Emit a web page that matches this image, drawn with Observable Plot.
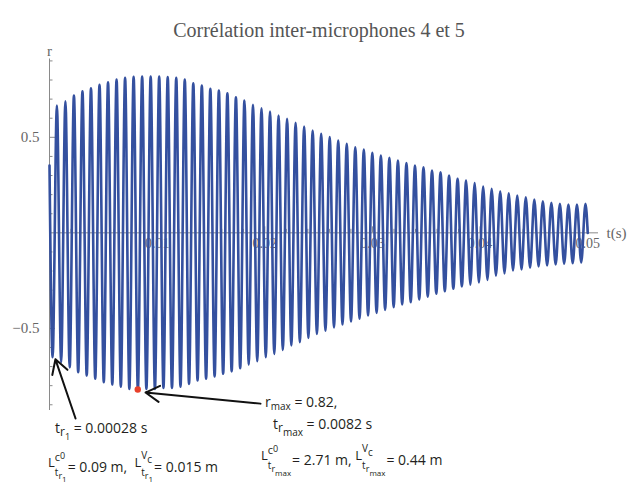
<!DOCTYPE html>
<html><head><meta charset="utf-8">
<script src="https://cdn.jsdelivr.net/npm/d3@7"></script>
<script src="https://cdn.jsdelivr.net/npm/@observablehq/plot@0.6"></script>
<style>body{margin:0;background:#fff}#chart{width:637px;height:484px}</style>
</head><body><div id="chart"></div>
<script>
const title = "Corrélation inter-microphones 4 et 5";
// signal: start value, then alternating trough / peak extrema
const startTime = 0, startValue = 0.352;
const endTime = 0.05, endValue = 0.0;
const firstTroughTime = 0.00029;
const period = 0.000792;
const troughValues = [-0.651,-0.677,-0.704,-0.730,-0.747,-0.764,-0.782,-0.794,-0.805,-0.817,-0.820,-0.817,-0.817,-0.812,-0.812,-0.805,-0.791,
  -0.773,-0.764,-0.752,-0.738,-0.725,-0.709,-0.690,-0.672,-0.651,-0.634,-0.613,-0.590,-0.573,-0.550,-0.529,-0.512,-0.495,
  -0.480,-0.464,-0.450,-0.433,-0.419,-0.403,-0.389,-0.375,-0.363,-0.349,-0.334,-0.319,-0.306,-0.293,-0.280,-0.271,-0.259,-0.246,
  -0.224,-0.212,-0.197,-0.192,-0.183,-0.176,-0.171,-0.166,-0.162,-0.159,-0.155];
const peakValues = [0.666,0.689,0.719,0.741,0.757,0.775,0.788,0.803,0.812,0.817,0.818,0.818,0.818,0.815,0.812,0.803,
  0.783,0.771,0.754,0.745,0.731,0.710,0.693,0.670,0.652,0.635,0.614,0.597,0.576,0.557,0.536,0.518,0.501,0.483,
  0.466,0.448,0.436,0.419,0.405,0.393,0.379,0.365,0.352,0.343,0.326,0.317,0.300,0.283,0.274,0.260,0.242,
  0.230,0.218,0.207,0.195,0.186,0.174,0.165,0.157,0.152,0.148,0.148,0.152];
const rMaxTime = 0.0082, rMaxValue = -0.82;
const yMajorTicks = [-0.5, 0.5];
const yMajorLabels = ["\u22120.5", "0.5"];
const yMinorTicks = [-0.9,-0.8,-0.7,-0.6,-0.4,-0.3,-0.2,-0.1,0.1,0.2,0.3,0.4,0.6,0.7,0.8,0.9];
const xMajorTicks = [0.01, 0.02, 0.03, 0.04, 0.05];
const xMajorLabels = ["0.01", "0.02", "0.03", "0.04", "0.05"];
const xMinorTicks = [0.002,0.004,0.006,0.008,0.012,0.014,0.016,0.018,0.022,0.024,0.026,0.028,0.032,0.034,0.036,0.038,0.042,0.044,0.046,0.048];
const arrows = [
  {t1: 0.00242, r1: -0.972, t2: 0.00055, r2: -0.662},
  {t1: 0.0196, r1: -0.894, t2: 0.00892, r2: -0.836}
];

const series = [{t: startTime, r: startValue}];
troughValues.forEach((v, i) => {
  const t0 = firstTroughTime + i * period;
  series.push({t: t0, r: v});
  series.push({t: t0 + period / 2, r: peakValues[i]});
});
series.push({t: endTime, r: endValue});

const gray = "#8a8a8a", labelGray = "#666", blue = "#34509f";
const serif = "Liberation Serif, Times New Roman, serif";

const svg = Plot.plot({
  width: 637, height: 484,
  marginLeft: 49, marginRight: 39, marginTop: 58.5, marginBottom: 74,
  x: {domain: [0, 0.051], axis: null},
  y: {domain: [-0.93, 0.91], axis: null},
  style: {background: "white", fontFamily: serif, overflow: "visible"},
  marks: [
    Plot.text(xMajorTicks, {x: d => d, y: () => 0, dy: 11, text: (d, i) => xMajorLabels[i], fill: labelGray, fontSize: 14, fontFamily: serif}),
    Plot.ruleY([0], {stroke: gray, strokeWidth: 1}),
    Plot.ruleX([0], {stroke: gray, strokeWidth: 1}),
    Plot.ruleY(yMinorTicks, {y: d => d, x1: () => 0, x2: () => 0, insetRight: -3.5, stroke: gray}),
    Plot.ruleY(yMajorTicks, {y: d => d, x1: () => 0, x2: () => 0, insetRight: -6, stroke: gray}),
    Plot.ruleX(xMinorTicks, {x: d => d, y1: () => 0, y2: () => 0, insetTop: -3.5, stroke: gray}),
    Plot.ruleX(xMajorTicks, {x: d => d, y1: () => 0, y2: () => 0, insetTop: -6, stroke: gray}),
    Plot.text(yMajorTicks, {x: () => 0, y: d => d, dx: -10, text: (d, i) => yMajorLabels[i], textAnchor: "end", fill: labelGray, fontSize: 15, fontFamily: serif}),
    Plot.text(["r"], {frameAnchor: "top-left", dy: -14, textAnchor: "middle", fill: labelGray, fontSize: 15, fontFamily: serif}),
    Plot.text(["t(s)"], {x: () => 0.051, y: () => 0, dx: 8, textAnchor: "start", fill: labelGray, fontSize: 15, fontFamily: serif}),
    Plot.text([title], {frameAnchor: "top", dx: -5, dy: -36.5, fill: "#555", fontSize: 20, fontFamily: serif}),
    Plot.line(series, {x: "t", y: "r", curve: "monotone-x", stroke: blue, strokeWidth: 2.6}),
    Plot.dot([{t: rMaxTime, r: rMaxValue}], {x: "t", y: "r", r: 3.2, fill: "#e8402a", stroke: "none"}),
    Plot.arrow(arrows, {x1: "t1", y1: "r1", x2: "t2", y2: "r2", stroke: "#111", strokeWidth: 2, headLength: 12})
  ]
});
document.getElementById("chart").appendChild(svg);

// rich annotation text with sub/superscripts
const sans = "Open Sans, sans-serif";
const g = d3.select(svg).append("g").attr("font-family", sans).attr("fill", "#231f20").attr("text-anchor", "start");
function seq(x, y, items) {
  let cx = x;
  for (const p of items) {
    const t = g.append("text").attr("x", cx).attr("y", y + (p.dy || 0)).attr("font-size", p.s).attr("text-anchor", "start").text(p.t);
    cx += t.node().getComputedTextLength();
  }
  return cx - x;
}
function rich(x, y, parts) {
  let cx = x;
  for (const p of parts) {
    if (p.stack) {
      let w = 0;
      for (const s of p.stack) w = Math.max(w, seq(cx, y, s));
      cx += w + 1;
    } else cx += seq(cx, y, [p]);
  }
}
const M = 14;
const subT1 = [{t: "t", s: 10, dy: 4}, {t: "r", s: 9, dy: 7}, {t: "1", s: 8, dy: 10}];
const subTmax = [{t: "t", s: 10, dy: 4}, {t: "r", s: 9, dy: 7}, {t: "max", s: 8, dy: 11}];
const supC0 = [{t: "c", s: 11, dy: -11}, {t: "0", s: 9, dy: -13}];
const supVc = [{t: "V", s: 10, dy: -13}, {t: "c", s: 10, dy: -9}];

rich(55, 433, [{t: "t", s: M}, {t: "r", s: 12, dy: 3}, {t: "1", s: 9, dy: 7}, {t: " = 0.00028 s", s: M}]);
rich(48, 472, [{t: "L", s: 13, dy: -5}, {stack: [supC0, subT1]}, {t: "= 0.09 m,  ", s: M},
               {t: "L", s: 13, dy: -5}, {stack: [supVc, subT1]}, {t: "= 0.015 m", s: M}]);
rich(265, 407, [{t: "r", s: M}, {t: "max", s: 10, dy: 3}, {t: " = 0.82,", s: M}]);
rich(273, 429, [{t: "t", s: M}, {t: "r", s: 12, dy: 3}, {t: "max", s: 10, dy: 7}, {t: " = 0.0082 s", s: M}]);
rich(261, 465, [{t: "L", s: 13, dy: -5}, {stack: [supC0, subTmax]}, {t: "= 2.71 m, ", s: M},
                {t: "L", s: 13, dy: -5}, {stack: [supVc, subTmax]}, {t: "= 0.44 m", s: M}]);
</script>
</body></html>
